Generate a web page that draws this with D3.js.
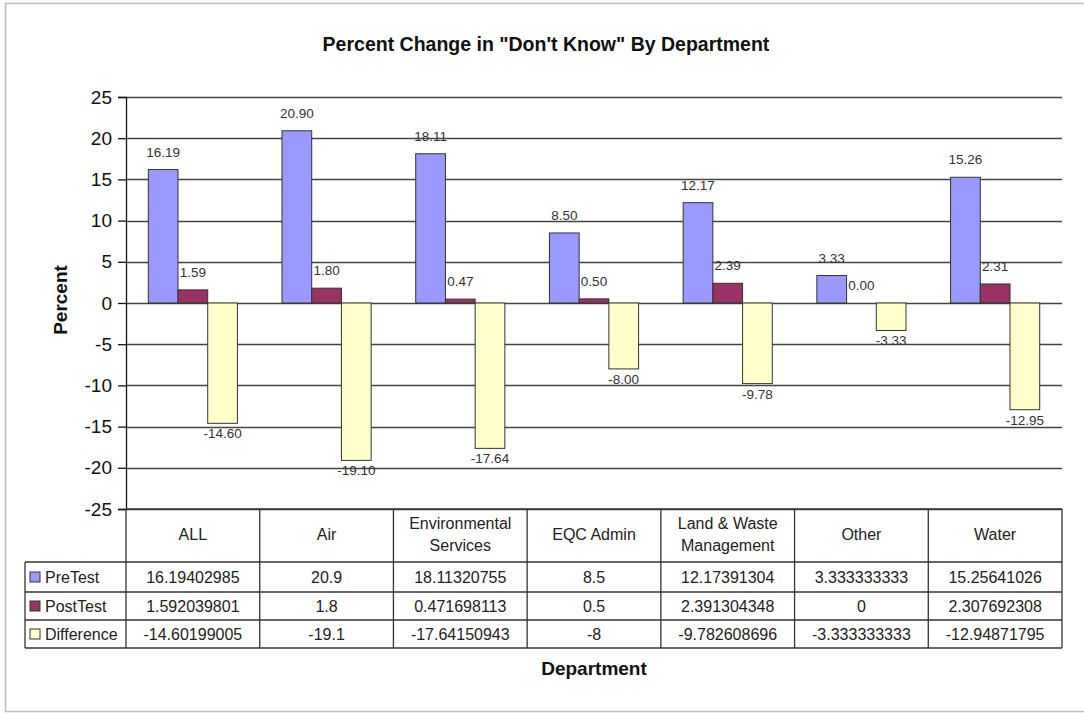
<!DOCTYPE html>
<html>
<head>
<meta charset="utf-8">
<script src="https://cdn.jsdelivr.net/npm/d3@7"></script>
<style>
  html, body { margin: 0; padding: 0; background: #fff; }
  svg { display: block; }
  text { font-family: Arial, "Liberation Sans", sans-serif; }
</style>
</head>
<body>
<svg id="chart" width="1084" height="713"></svg>
<script>
// Departments (table column headers; "\n" splits header lines)
const categories = ["ALL", "Air", "Environmental\nServices", "EQC Admin", "Land & Waste\nManagement", "Other", "Water"];
const seriesNames = ["PreTest", "PostTest", "Difference"];
const preTest = [16.19402985, 20.9, 18.11320755, 8.5, 12.17391304, 3.333333333, 15.25641026];
const postTest = [1.592039801, 1.8, 0.471698113, 0.5, 2.391304348, 0, 2.307692308];
const difference = [-14.60199005, -19.1, -17.64150943, -8, -9.782608696, -3.333333333, -12.94871795];
// Text shown in the data table cells
const preTestText = ["16.19402985", "20.9", "18.11320755", "8.5", "12.17391304", "3.333333333", "15.25641026"];
const postTestText = ["1.592039801", "1.8", "0.471698113", "0.5", "2.391304348", "0", "2.307692308"];
const differenceText = ["-14.60199005", "-19.1", "-17.64150943", "-8", "-9.782608696", "-3.333333333", "-12.94871795"];
const yTicks = [-25, -20, -15, -10, -5, 0, 5, 10, 15, 20, 25];
const seriesColors = ["#9999ff", "#993366", "#ffffcc"];

const seriesValues = [preTest, postTest, difference];
const seriesTexts = [preTestText, postTestText, differenceText];

const svg = d3.select("#chart");

// chart frame
svg.append("rect")
  .attr("x", 5.5).attr("y", 3.5).attr("width", 1100).attr("height", 708)
  .attr("fill", "#fff").attr("stroke", "#bdbdbd").attr("stroke-width", 1.5);

const plot = { left: 126, right: 1062, top: 97, bottom: 509 };

const x0 = d3.scaleBand()
  .domain(d3.range(categories.length))
  .range([plot.left, plot.right])
  .paddingInner(1 / 3)
  .paddingOuter(1 / 6);
const step = x0.step();
const x1 = d3.scaleBand().domain(d3.range(seriesNames.length)).range([0, x0.bandwidth()]);
const y = d3.scaleLinear().domain([-25, 25]).range([plot.bottom, plot.top]);

// title
svg.append("text")
  .attr("x", 546).attr("y", 51)
  .attr("text-anchor", "middle")
  .attr("font-size", 19.5).attr("font-weight", "bold").attr("fill", "#111")
  .text("Percent Change in \"Don't Know\" By Department");

// gridlines
svg.append("g").selectAll("line").data(yTicks).join("line")
  .attr("x1", plot.left).attr("x2", plot.right)
  .attr("y1", d => Math.round(y(d)) + 0.5).attr("y2", d => Math.round(y(d)) + 0.5)
  .attr("stroke", "#444").attr("stroke-width", 1.3);

// y axis
const yAxis = d3.axisLeft(y).tickValues(yTicks).tickSize(8).tickPadding(6).tickFormat(d => String(d));
const gy = svg.append("g").attr("transform", `translate(${plot.left},0)`).call(yAxis);
gy.select(".domain").attr("stroke", "#111").attr("stroke-width", 1.3);
gy.selectAll(".tick line").attr("stroke", "#111").attr("stroke-width", 1.3);
gy.selectAll(".tick text")
  .attr("font-size", 19).attr("fill", "#111")
  .attr("font-family", "Arial, 'Liberation Sans', sans-serif");

// y axis title
svg.append("text")
  .attr("transform", "translate(67,300) rotate(-90)")
  .attr("text-anchor", "middle")
  .attr("font-size", 19).attr("font-weight", "bold").attr("fill", "#111")
  .text("Percent");

// bars
const barData = [];
seriesValues.forEach((vals, s) => vals.forEach((v, i) => barData.push({ s, i, v })));

svg.append("g").selectAll("rect").data(barData).join("rect")
  .attr("x", d => x0(d.i) + x1(d.s))
  .attr("width", x1.bandwidth())
  .attr("y", d => y(Math.max(0, d.v)))
  .attr("height", d => Math.abs(y(d.v) - y(0)))
  .attr("fill", d => seriesColors[d.s])
  .attr("stroke", "#333").attr("stroke-width", 1);

// data labels
svg.append("g").selectAll("text").data(barData).join("text")
  .attr("x", d => x0(d.i) + x1(d.s) + x1.bandwidth() / 2)
  .attr("y", d => d.v >= 0 ? y(d.v) - 13 : y(d.v) + 15)
  .attr("text-anchor", "middle")
  .attr("font-size", 13.5).attr("fill", "#333")
  .text(d => d.v.toFixed(2));

// data table
const tbl = { header: [plot.bottom, 562], rows: [562, 592, 620, 648], legendLeft: 25 };
const tg = svg.append("g");
const lineStyle = sel => sel.attr("stroke", "#333").attr("stroke-width", 1.3);

// column borders
d3.range(categories.length + 1).forEach(k => {
  const xx = plot.left + k * step;
  tg.append("line").attr("x1", xx).attr("x2", xx)
    .attr("y1", tbl.header[0]).attr("y2", tbl.rows[3]).call(lineStyle);
});
tg.append("line").attr("x1", plot.left).attr("x2", plot.right)
  .attr("y1", tbl.header[0]).attr("y2", tbl.header[0]).call(lineStyle);
tbl.rows.forEach(ry => {
  tg.append("line").attr("x1", tbl.legendLeft).attr("x2", plot.right)
    .attr("y1", ry).attr("y2", ry).call(lineStyle);
});
tg.append("line").attr("x1", tbl.legendLeft).attr("x2", tbl.legendLeft)
  .attr("y1", tbl.rows[0]).attr("y2", tbl.rows[3]).call(lineStyle);

// category headers
categories.forEach((c, i) => {
  const lines = c.split("\n");
  const cx = plot.left + (i + 0.5) * step;
  const cy = (tbl.header[0] + tbl.header[1]) / 2 - 1;
  lines.forEach((ln, k) => {
    tg.append("text")
      .attr("x", cx).attr("y", cy + (k - (lines.length - 1) / 2) * 22 + 5.5)
      .attr("text-anchor", "middle").attr("font-size", 16).attr("fill", "#222")
      .text(ln);
  });
});

// series rows
seriesNames.forEach((name, s) => {
  const r0 = tbl.rows[s], r1 = tbl.rows[s + 1];
  const cy = (r0 + r1) / 2;
  tg.append("rect")
    .attr("x", 30).attr("y", cy - 5).attr("width", 10).attr("height", 10)
    .attr("fill", seriesColors[s]).attr("stroke", "#333").attr("stroke-width", 1);
  tg.append("text")
    .attr("x", 45).attr("y", cy + 6)
    .attr("font-size", 16).attr("fill", "#222")
    .text(name);
  seriesTexts[s].forEach((t, i) => {
    tg.append("text")
      .attr("x", plot.left + (i + 0.5) * step).attr("y", cy + 6)
      .attr("text-anchor", "middle").attr("font-size", 16).attr("fill", "#222")
      .text(t);
  });
});

// x axis title
svg.append("text")
  .attr("x", (plot.left + plot.right) / 2).attr("y", 675)
  .attr("text-anchor", "middle")
  .attr("font-size", 19).attr("font-weight", "bold").attr("fill", "#111")
  .text("Department");
</script>
</body>
</html>
